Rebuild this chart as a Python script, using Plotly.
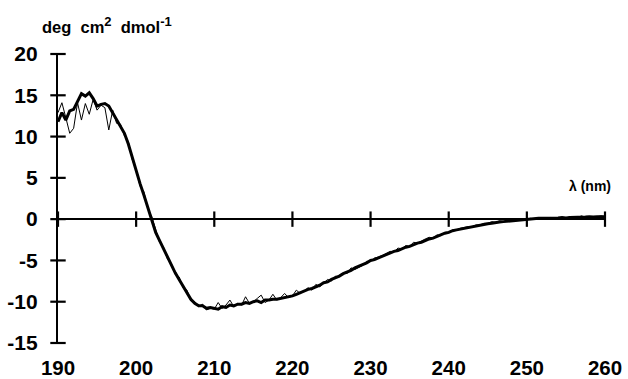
import plotly.graph_objects as go

WAVELENGTH = [
    190.0, 190.5, 191.0, 191.5, 192.0, 192.5, 193.0, 193.5, 194.0, 194.5,
    195.0, 195.5, 196.0, 196.5, 197.0, 197.5, 198.0, 198.5, 199.0, 199.5,
    200.0, 200.5, 201.0, 201.5, 202.0, 202.5, 203.0, 203.5, 204.0, 204.5,
    205.0, 205.5, 206.0, 206.5, 207.0, 207.5, 208.0, 208.5, 209.0, 209.5,
    210.0, 210.5, 211.0, 211.5, 212.0, 212.5, 213.0, 213.5, 214.0, 214.5,
    215.0, 215.5, 216.0, 216.5, 217.0, 217.5, 218.0, 218.5, 219.0, 219.5,
    220.0, 220.5, 221.0, 221.5, 222.0, 222.5, 223.0, 223.5, 224.0, 224.5,
    225.0, 225.5, 226.0, 226.5, 227.0, 227.5, 228.0, 228.5, 229.0, 229.5,
    230.0, 230.5, 231.0, 231.5, 232.0, 232.5, 233.0, 233.5, 234.0, 234.5,
    235.0, 235.5, 236.0, 236.5, 237.0, 237.5, 238.0, 238.5, 239.0, 239.5,
    240.0, 240.5, 241.0, 241.5, 242.0, 242.5, 243.0, 243.5, 244.0, 244.5,
    245.0, 245.5, 246.0, 246.5, 247.0, 247.5, 248.0, 248.5, 249.0, 249.5,
    250.0, 250.5, 251.0, 251.5, 252.0, 252.5, 253.0, 253.5, 254.0, 254.5,
    255.0, 255.5, 256.0, 256.5, 257.0, 257.5, 258.0, 258.5, 259.0, 259.5,
    260.0,
]

THICK = [
    11.8, 12.9, 12.0, 13.1, 13.3, 14.2, 15.2, 14.9, 15.3, 14.6,
    13.7, 13.9, 14.0, 13.7, 12.9, 12.1, 11.2, 10.4, 9.1, 7.5,
    5.6, 4.3, 2.9, 1.4, 0.0, -1.6, -2.6, -3.6, -4.6, -5.6,
    -6.5, -7.3, -8.1, -9.0, -9.7, -10.2, -10.5, -10.5, -10.8, -10.7,
    -10.8, -10.9, -10.6, -10.7, -10.4, -10.5, -10.3, -10.3, -10.1, -10.2,
    -10.0, -9.9, -10.1, -9.8, -9.8, -9.7, -9.7, -9.6, -9.5, -9.4,
    -9.3, -9.1, -8.9, -8.7, -8.5, -8.4, -8.2, -8.0, -7.7, -7.6,
    -7.3, -7.1, -6.9, -6.6, -6.4, -6.2, -5.9, -5.7, -5.5, -5.3,
    -5.0, -4.9, -4.7, -4.5, -4.3, -4.1, -3.9, -3.8, -3.6, -3.4,
    -3.3, -3.1, -2.9, -2.8, -2.6, -2.4, -2.3, -2.1, -1.9, -1.7,
    -1.6, -1.4, -1.3, -1.2, -1.1, -1.0, -0.9, -0.8, -0.7, -0.6,
    -0.55, -0.5, -0.4, -0.35, -0.3, -0.25, -0.2, -0.15, -0.1, -0.1,
    -0.05, 0.0, 0.05, 0.1, 0.1, 0.1, 0.15, 0.1, 0.15, 0.2,
    0.15, 0.2, 0.2, 0.25, 0.2, 0.25, 0.3, 0.25, 0.3, 0.3,
    0.3,
]

THIN = [
    12.9, 14.1, 12.3, 10.4, 11.0, 14.1, 12.0, 14.0, 12.7, 14.5,
    13.2, 13.8, 13.5, 10.8, 13.2, 11.6, 11.5, 10.1, 9.4, 7.2,
    6.0, 4.0, 3.3, 1.2, 0.3, -1.4, -2.8, -3.4, -4.8, -5.4,
    -6.7, -7.0, -8.3, -8.6, -9.9, -10.0, -10.6, -10.3, -11.0, -10.8,
    -10.9, -10.1, -10.8, -10.4, -9.8, -10.6, -10.2, -10.4, -9.4, -10.2,
    -10.0, -9.6, -9.2, -10.1, -9.8, -9.1, -9.8, -9.5, -9.0, -9.5,
    -9.3, -8.6, -9.0, -8.7, -8.3, -8.6, -7.9, -8.2, -7.8, -7.3,
    -7.5, -6.9, -7.0, -6.5, -6.6, -5.9, -6.1, -5.8, -5.6, -5.1,
    -5.1, -4.7, -4.6, -4.4, -4.1, -3.9, -4.0, -3.5, -3.6, -3.2,
    -3.3, -2.8, -2.9, -2.6, -2.4, -2.2, -2.3, -1.9, -2.0, -1.6,
    -1.6, -1.3, -1.3, -1.1, -1.0, -0.9, -0.9, -0.7, -0.7, -0.5,
    -0.5, -0.3, -0.4, -0.2, -0.3, -0.1, -0.2, 0.0, -0.1, 0.0,
    0.0, 0.1, 0.0, 0.15, 0.1, 0.1, 0.2, 0.1, 0.2, 0.2,
    0.1, 0.3, 0.2, 0.2, 0.4, 0.2, 0.3, 0.3, 0.3, 0.4,
    0.3,
]

X_TICKS = [190, 200, 210, 220, 230, 240, 250, 260]
X_LABELS = ["190", "200", "210", "220", "230", "240", "250", "260"]
Y_TICKS = [-15, -10, -5, 0, 5, 10, 15, 20]
Y_LABELS = ["-15", "-10", "-5", "0", "5", "10", "15", "20"]
X_RANGE = [190, 260]
Y_RANGE = [-15, 20]

FONT = "Liberation Sans, Arial, Helvetica, sans-serif"

fig = go.Figure()

fig.add_trace(go.Scatter(
    x=WAVELENGTH, y=THIN, mode="lines",
    line=dict(color="black", width=1), showlegend=False, hoverinfo="skip",
))
fig.add_trace(go.Scatter(
    x=WAVELENGTH, y=THICK, mode="lines",
    line=dict(color="black", width=3), showlegend=False, hoverinfo="skip",
))

# crossing tick marks on the x axis line (at y = 0)
fig.add_trace(go.Scatter(
    x=X_TICKS, y=[0] * len(X_TICKS), mode="markers",
    marker=dict(symbol="line-ns", size=11, line=dict(color="black", width=2.2)),
    showlegend=False, hoverinfo="skip", cliponaxis=False,
))
# crossing tick marks on the y axis line (at x = 190)
fig.add_trace(go.Scatter(
    x=[X_RANGE[0]] * len(Y_TICKS), y=Y_TICKS, mode="markers",
    marker=dict(symbol="line-ew", size=11, line=dict(color="black", width=2.2)),
    showlegend=False, hoverinfo="skip", cliponaxis=False,
))

fig.update_layout(
    width=628, height=379,
    margin=dict(l=58, r=23, t=54, b=36),
    paper_bgcolor="white", plot_bgcolor="white",
    font=dict(family=FONT, color="black"),
    xaxis=dict(
        range=X_RANGE, tickvals=X_TICKS, ticktext=X_LABELS, showgrid=False,
        zeroline=False, showline=False, ticks="", ticklabelstandoff=10,
        automargin=False,
        tickfont=dict(size=20.5, weight="bold", family=FONT, color="black"),
    ),
    yaxis=dict(
        range=Y_RANGE, tickvals=Y_TICKS, ticktext=Y_LABELS, showgrid=False,
        zeroline=True, zerolinecolor="black", zerolinewidth=2.2,
        showline=True, linecolor="black", linewidth=2.2, ticks="",
        ticklabelstandoff=14, automargin=False,
        tickfont=dict(size=21, weight="bold", family=FONT, color="black"),
    ),
    annotations=[
        dict(
            text=("deg&nbsp;&nbsp;cm<sup><span style='font-size:13px'>2</span></sup>"
                  "&nbsp;&nbsp;dmol<sup><span style='font-size:13px'>-1</span></sup>"),
            xref="paper", yref="paper", x=-0.032, y=1.0, yshift=29,
            xanchor="left", yanchor="middle", showarrow=False,
            font=dict(size=16.5, weight="bold", family=FONT, color="black"),
        ),
        dict(
            text="λ (nm)",
            xref="paper", yref="y", x=1.015, y=0, yshift=33,
            xanchor="right", yanchor="middle", showarrow=False,
            font=dict(size=14, weight=600, family=FONT, color="black"),
        ),
    ],
)

fig.write_html(
    "out.html",
    config={"displayModeBar": False},
    post_script="document.body.style.margin='0';document.body.style.overflow='hidden';",
)
